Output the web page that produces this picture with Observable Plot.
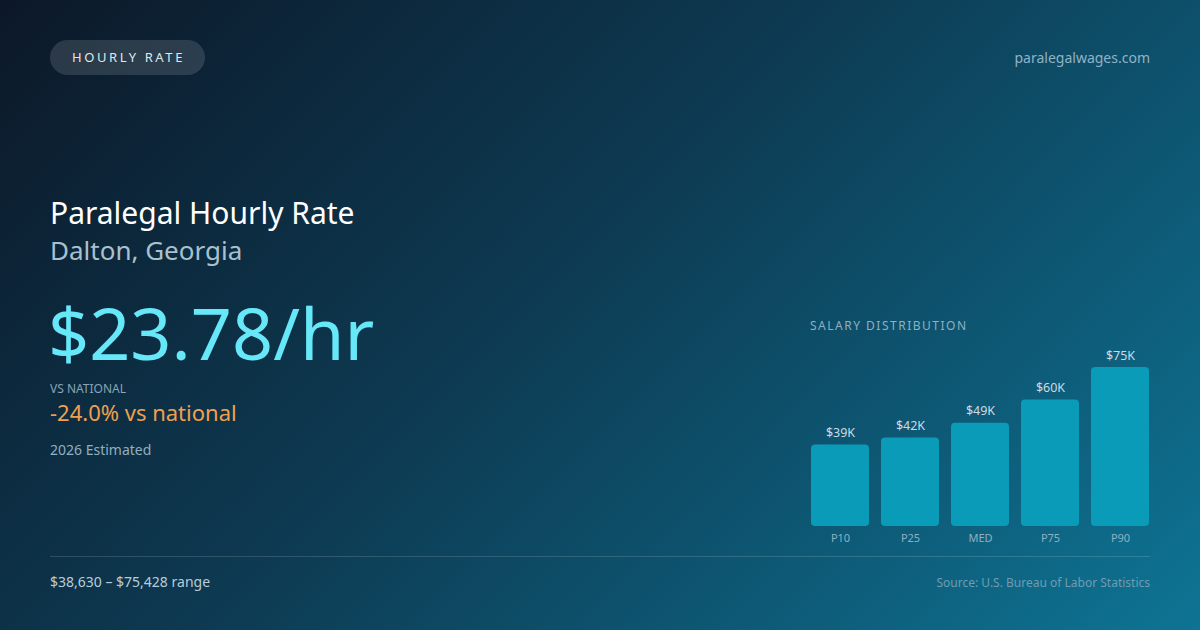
<!DOCTYPE html>
<html>
<head>
<meta charset="utf-8">
<script src="https://cdn.jsdelivr.net/npm/d3@7"></script>
<script src="https://cdn.jsdelivr.net/npm/@observablehq/plot@0.6"></script>
<style>
  html, body { margin: 0; padding: 0; }
  body { width: 1200px; height: 630px; overflow: hidden; font-family: "Noto Sans", sans-serif; }
  #card {
    position: relative; width: 1200px; height: 630px;
    background: linear-gradient(135deg, #0c1828 0%, #0d3a52 45%, #0e7494 100%);
    overflow: hidden;
  }
  .abs { position: absolute; white-space: nowrap; }
  #pill {
    left: 50px; top: 40px; width: 155px; height: 35px; border-radius: 18px;
    background: rgba(255,255,255,0.13); color: #dfe7ef; font-size: 13px;
    letter-spacing: 2.6px; line-height: 35px; text-align: center; text-indent: 2px;
  }
  #site { right: 50px; top: 48px; font-size: 14px; color: #8fb3c6; }
  #title { left: 50px; top: 192px; font-size: 30px; color: #ffffff; }
  #sub { left: 50px; top: 232px; font-size: 26px; color: #a9c0cf; }
  #big { left: 48px; top: 282px; font-size: 72px; color: #67e8f9; line-height: 100px; }
  #vsl { left: 50px; top: 380px; font-size: 12px; color: #8aa5b6; }
  #vs { left: 50px; top: 397px; font-size: 22px; color: #f0a04e; }
  #est { left: 50px; top: 440px; font-size: 14px; color: #93aebf; }
  #dist { left: 810px; top: 317px; font-size: 12px; color: #8fb0c2; letter-spacing: 1.5px; }
  #rule { left: 50px; top: 556px; width: 1100px; height: 1px; background: rgba(255,255,255,0.14); }
  #range { left: 50px; top: 572px; font-size: 14px; color: #b9ccd8; }
  #src { right: 50px; top: 574px; font-size: 12px; color: #6f9cb2; }
  #chart { position: absolute; left: 810px; top: 340px; }
</style>
</head>
<body>
<div id="card">
  <div class="abs" id="pill">HOURLY RATE</div>
  <div class="abs" id="site">paralegalwages.com</div>
  <div class="abs" id="title">Paralegal Hourly Rate</div>
  <div class="abs" id="sub">Dalton, Georgia</div>
  <div class="abs" id="big">$23.78/hr</div>
  <div class="abs" id="vsl">VS NATIONAL</div>
  <div class="abs" id="vs">-24.0% vs national</div>
  <div class="abs" id="est">2026 Estimated</div>
  <div class="abs" id="dist">SALARY DISTRIBUTION</div>
  <div class="abs" id="rule"></div>
  <div class="abs" id="range">$38,630 – $75,428 range</div>
  <div class="abs" id="src">Source: U.S. Bureau of Labor Statistics</div>
  <div id="chart"></div>
</div>
<script>
const categories = ["P10", "P25", "MED", "P75", "P90"];
const salaries = [38630, 42000, 49000, 60000, 75428];
const valueLabels = ["$39K", "$42K", "$49K", "$60K", "$75K"];

const data = categories.map((c, i) => ({ cat: c, value: salaries[i], label: valueLabels[i] }));

const chart = Plot.plot({
  width: 340,
  height: 210,
  marginLeft: 0,
  marginRight: 0,
  marginTop: 27,
  marginBottom: 24,
  style: { background: "transparent", fontFamily: "Noto Sans, sans-serif", overflow: "visible" },
  x: { domain: categories, paddingInner: 0.17, paddingOuter: 0, label: null },
  y: { domain: [0, 75428], axis: null },
  marks: [
    Plot.barY(data, { x: "cat", y: "value", fill: "#0a9bb9", rx: 4 }),
    Plot.text(data, { x: "cat", y: "value", text: "label", dy: -8, lineAnchor: "bottom", fill: "#c9dbe5", fontSize: 12.5 }),
    Plot.axisX({ tickSize: 0, tickPadding: 8, fontSize: 11, color: "#8fb0c2", label: null })
  ]
});
document.getElementById("chart").appendChild(chart);
</script>
</body>
</html>
